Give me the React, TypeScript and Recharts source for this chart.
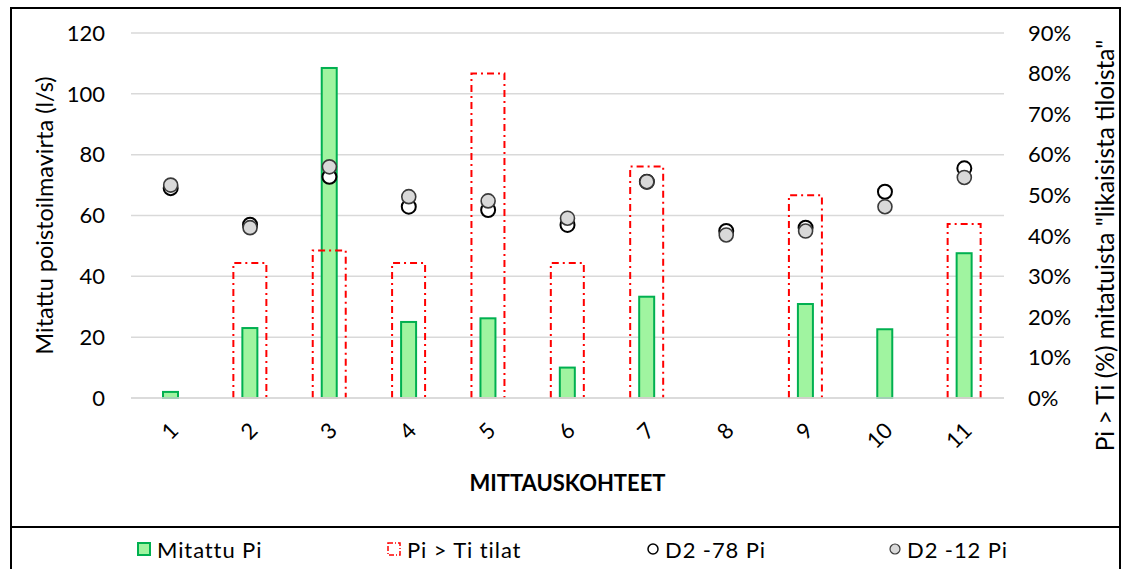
import React from 'react';
import { ComposedChart, Bar, Scatter, XAxis, YAxis, CartesianGrid, Legend } from 'recharts';

const categories = ['1', '2', '3', '4', '5', '6', '7', '8', '9', '10', '11'];
const mitattuPi = [2, 23, 108.5, 25, 26.2, 10, 33.3, 0, 30.9, 22.6, 47.6];
const piTiTilat = [0, 0.333, 0.364, 0.333, 0.8, 0.333, 0.571, 0, 0.5, 0, 0.429];
const d2_78 = [69, 57, 72.7, 62.9, 61.8, 56.9, 71.1, 54.9, 56.0, 67.8, 75.5];
const d2_12 = [70, 56, 76, 66.2, 64.8, 59.1, 71.1, 53.6, 54.9, 62.9, 72.5];

const leftTicks = [0, 20, 40, 60, 80, 100, 120];
const rightTicks = [0, 0.1, 0.2, 0.3, 0.4, 0.5, 0.6, 0.7, 0.8, 0.9];

const data = categories.map((c, i) => ({
  cat: c,
  mitattu: mitattuPi[i],
  piti: piTiTilat[i],
  d78: d2_78[i],
  d12: d2_12[i],
}));

const FONT = 'Lato, "Open Sans", sans-serif';
const GREEN_FILL = '#a0f4a0';
const GREEN_STROKE = '#00b050';
const RED = '#ff0000';
const GRID = '#d9d9d9';
const TICK_FS = 22;

const RedBox = (props: any) => {
  const { x, y, width, height } = props;
  if (!height || height <= 0) return null;
  return (
    <g>
      <line x1={x} y1={y + height} x2={x + width} y2={y + height} stroke="#f6b8b8" strokeWidth={1.5} />
      <path
        d={`M${x},${y + height} L${x},${y} L${x + width},${y} L${x + width},${y + height}`}
        fill="none"
        stroke={RED}
        strokeWidth={2}
        strokeDasharray="7 4 2 4"
      />
    </g>
  );
};

const GreenBar = (props: any) => {
  const { x, y, width, height } = props;
  if (!height || height <= 0) return null;
  return (
    <rect x={x} y={y} width={width} height={height} fill={GREEN_FILL} stroke={GREEN_STROKE} strokeWidth={2} />
  );
};

const Circle78 = (props: any) => {
  const { cx, cy } = props;
  if (cx == null || cy == null) return null;
  return <circle cx={cx} cy={cy} r={7} fill="#ffffff" stroke="#000000" strokeWidth={2} />;
};

const Circle12 = (props: any) => {
  const { cx, cy } = props;
  if (cx == null || cy == null) return null;
  return <circle cx={cx} cy={cy} r={7} fill="#d9d9d9" stroke="#3a3a3a" strokeWidth={1.6} />;
};

const XTick = (props: any) => {
  const { x, y, payload } = props;
  const ax = x + 3;
  const ay = y + 20;
  return (
    <text
      x={ax}
      y={ay}
      transform={`rotate(-45, ${ax}, ${ay})`}
      textAnchor="end"
      dominantBaseline="central"
      fontSize={TICK_FS}
      fontFamily={FONT}
      fill="#000"
    >
      {payload.value}
    </text>
  );
};

const LeftTitle = (props: any) => {
  const vb = props.viewBox || {};
  const cx = vb.x + 32;
  const cy = vb.y + vb.height / 2;
  return (
    <text
      x={cx}
      y={cy}
      transform={`rotate(-90, ${cx}, ${cy})`}
      textAnchor="middle"
      dominantBaseline="central"
      fontSize={23.5}
      fontFamily={FONT}
      fill="#000"
    >
      Mitattu poistoilmavirta (l/s)
    </text>
  );
};

const RightTitle = (props: any) => {
  const vb = props.viewBox || {};
  const cx = vb.x + vb.width - 15;
  const cy = vb.y + vb.height / 2 + 30;
  return (
    <text
      x={cx}
      y={cy}
      transform={`rotate(-90, ${cx}, ${cy})`}
      textAnchor="middle"
      dominantBaseline="central"
      fontSize={24.5}
      fontFamily={FONT}
      fill="#000"
    >
      {'Pi > Ti (%) mitatuista "likaisista tiloista"'}
    </text>
  );
};

const LegendContent = () => {
  const item = (left: number, icon: React.ReactNode, label: string) => (
    <div style={{ position: 'absolute', left, top: 0, height: 30, display: 'flex', alignItems: 'center', whiteSpace: 'nowrap' }}>
      {icon}
      <span style={{ marginLeft: 6, letterSpacing: 0.9 }}>{label}</span>
    </div>
  );
  return (
    <div
      style={{
        position: 'relative',
        fontFamily: FONT,
        fontSize: 22,
        color: '#000',
        height: 30,
        width: 1107,
      }}
    >
      {item(
        125,
        <svg width={14} height={14}><rect x={1} y={1} width={12} height={12} fill={GREEN_FILL} stroke={GREEN_STROKE} strokeWidth={2} /></svg>,
        'Mitattu Pi'
      )}
      {item(
        375,
        <svg width={14} height={14}><rect x={1} y={1} width={12} height={12} fill="none" stroke={RED} strokeWidth={1.5} strokeDasharray="5 2 1 2" /></svg>,
        'Pi > Ti tilat'
      )}
      {item(
        635,
        <svg width={12} height={14}><circle cx={6} cy={7} r={5} fill="#fff" stroke="#000" strokeWidth={1.5} /></svg>,
        'D2 -78 Pi'
      )}
      {item(
        877,
        <svg width={12} height={14}><circle cx={6} cy={7} r={5} fill="#d9d9d9" stroke="#3a3a3a" strokeWidth={1.2} /></svg>,
        'D2 -12 Pi'
      )}
    </div>
  );
};

export default function App() {
  return (
    <div
      style={{
        position: 'fixed',
        left: 10,
        top: 7,
        width: 1111,
        height: 600,
        border: '2px solid #000',
        boxSizing: 'border-box',
        background: '#fff',
        fontFamily: FONT,
      }}
    >
      <ComposedChart
        width={1107}
        height={560}
        data={data}
        margin={{ top: 24, right: 0, bottom: 45, left: 0 }}
      >
        <CartesianGrid vertical={false} stroke={GRID} strokeWidth={1.5} xAxisId="a" yAxisId="left" />
        <XAxis
          xAxisId="a"
          dataKey="cat"
          axisLine={{ stroke: GRID, strokeWidth: 1.5 }}
          tickLine={false}
          height={126}
          tick={<XTick />}
          interval={0}
          label={{
            value: 'MITTAUSKOHTEET',
            position: 'insideBottom',
            offset: 33,
            style: { fontSize: 22, fontWeight: 700, fontFamily: FONT, fill: '#000' },
          }}
        />
        <XAxis xAxisId="b" dataKey="cat" hide />
        <YAxis
          yAxisId="left"
          domain={[0, 120]}
          ticks={leftTicks}
          width={119}
          axisLine={false}
          tickLine={false}
          tickSize={0}
          tickMargin={26}
          tick={{ fontSize: TICK_FS, fill: '#000', fontFamily: FONT }}
          label={<LeftTitle />}
        />
        <YAxis
          yAxisId="right"
          orientation="right"
          domain={[0, 0.9]}
          ticks={rightTicks}
          width={115}
          axisLine={false}
          tickLine={false}
          tickSize={0}
          tickMargin={24}
          tickFormatter={(v: number) => `${Math.round(v * 100)}%`}
          tick={{ fontSize: TICK_FS, fill: '#000', fontFamily: FONT, textAnchor: 'start' }}
          label={<RightTitle />}
        />
        <Bar
          xAxisId="a"
          yAxisId="left"
          dataKey="mitattu"
          name="Mitattu Pi"
          barSize={15}
          shape={<GreenBar />}
          isAnimationActive={false}
        />
        <Bar
          xAxisId="b"
          yAxisId="right"
          dataKey="piti"
          name="Pi > Ti tilat"
          barSize={33}
          shape={<RedBox />}
          isAnimationActive={false}
        />
        <Scatter
          xAxisId="a"
          yAxisId="left"
          dataKey="d78"
          name="D2 -78 Pi"
          shape={<Circle78 />}
          isAnimationActive={false}
        />
        <Scatter
          xAxisId="a"
          yAxisId="left"
          dataKey="d12"
          name="D2 -12 Pi"
          shape={<Circle12 />}
          isAnimationActive={false}
        />
        <Legend
          layout="horizontal"
          verticalAlign="middle"
          align="center"
          content={<LegendContent />}
          wrapperStyle={{ top: 525, left: 0, width: 1107, height: 30 }}
        />
      </ComposedChart>
      <div style={{ position: 'absolute', top: 517, left: 0, width: '100%', height: 2, background: '#000' }} />
    </div>
  );
}
